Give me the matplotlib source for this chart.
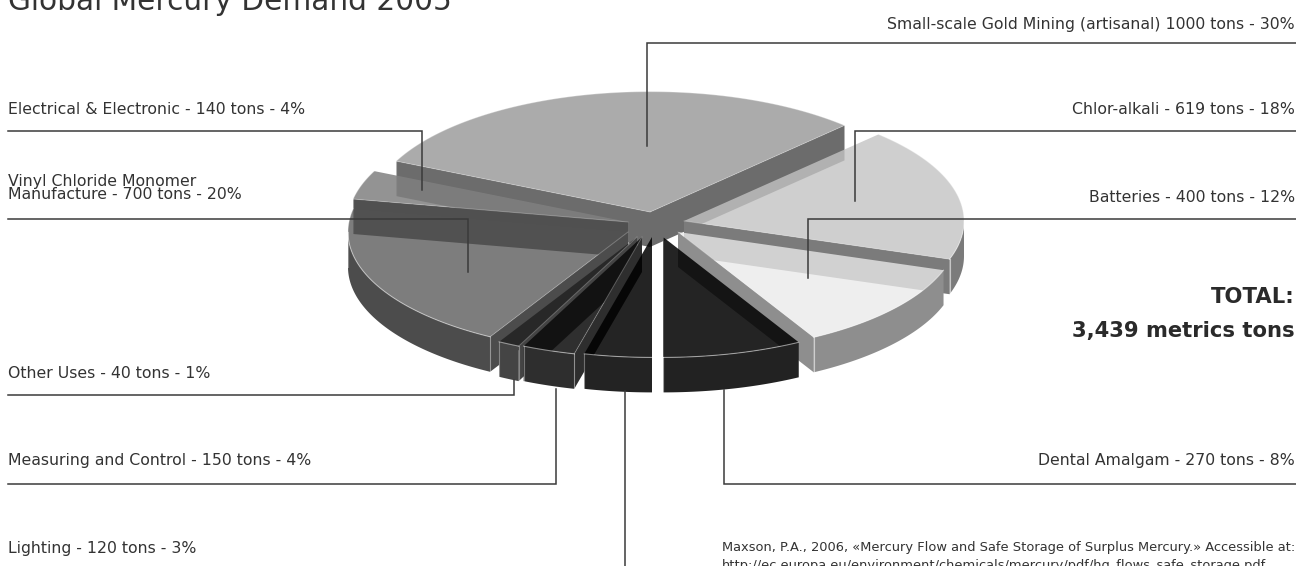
import numpy as np
import matplotlib
matplotlib.use("Agg")
import matplotlib.pyplot as plt
from matplotlib.patches import Polygon

# ---- data ----
categories = ["Small-scale Gold Mining (artisanal)", "Chlor-alkali", "Batteries", "Dental Amalgam",
              "Lighting", "Measuring and Control", "Other Uses",
              "Vinyl Chloride Monomer\nManufacture", "Electrical & Electronic"]
tons = [1000, 619, 400, 270, 120, 150, 40, 700, 140]
percent = [30, 18, 12, 8, 3, 4, 1, 20, 4]
# slice sizes as they are actually drawn in the picture (degrees)
drawn_degrees = [109.0, 64.5, 42.5, 29.0, 14.0, 11.0, 4.5, 71.5, 14.0]
total_label = ["TOTAL:", "3,439 metrics tons"]
title = "Global Mercury Demand 2005"
source = ["Maxson, P.A., 2006, «Mercury Flow and Safe Storage of Surplus Mercury.» Accessible at:",
          "http://ec.europa.eu/environment/chemicals/mercury/pdf/hg_flows_safe_storage.pdf"]

# ---- style / layout ----
W, H = 1296, 566
R, SQUASH, DEPTH = 280, 0.43, 35
START = 155.0
apex = [(650, 212), (684, 221), (678, 232), (663, 237), (652, 237),
        (642, 237), (637, 237), (628, 232), (628, 222)]
top_col = ["#ababab", "#c3c3c3", "#eaeaea", "#000000", "#000000", "#0a0a0a", "#222222", "#525252", "#808080"]
top_alpha = [1.0, 0.8, 0.78, 0.86, 0.86, 0.85, 0.85, 0.75, 0.85]
wall_col = ["#6c6c6c", "#7b7b7b", "#8e8e8e", "#222222", "#232323", "#2e2e2e", "#444444", "#4c4c4c", "#505050"]
draw_order = [0, 1, 2, 3, 8, 7, 6, 5, 4]

label_pos = {0: (1295, 24, "right"), 1: (1295, 109, "right"), 2: (1295, 197, "right"),
             3: (1295, 461, "right"), 4: (8, 549, "left"), 5: (8, 461, "left"),
             6: (8, 373, "left"), 7: (8, 188, "left"), 8: (8, 109, "left")}
leaders = {0: [(1296, 43), (647, 43), (647, 146)], 1: [(1296, 131), (855, 131), (855, 201)],
           2: [(1296, 219), (808, 219), (808, 278)], 3: [(1296, 484), (724, 484), (724, 390)],
           4: [(625, 567), (625, 391)], 5: [(8, 484), (556, 484), (556, 389)],
           6: [(8, 395), (514, 395), (514, 380)], 7: [(8, 219), (468, 219), (468, 272)],
           8: [(8, 131), (422, 131), (422, 190)]}
TEXT = "#333333"
plt.rcParams["font.family"] = ["DejaVu Sans"]

fig = plt.figure(figsize=(W / 100, H / 100), dpi=100)
ax = fig.add_axes([0, 0, 1, 1])
ax.set_xlim(0, W)
ax.set_ylim(H, 0)
ax.axis("off")


def rim(ap, t0, t1):
    t = np.radians(np.linspace(t0, t1, 80))
    return np.column_stack([ap[0] + R * np.cos(t), ap[1] - R * SQUASH * np.sin(t)])


def extrude(pts):
    low = pts[::-1] + np.array([0, DEPTH])
    return np.vstack([pts, low])


edges = START - np.concatenate([[0], np.cumsum(drawn_degrees)])
for i in draw_order:
    ap = np.array(apex[i], float)
    hi, lo = edges[i], edges[i + 1]
    arc = rim(ap, hi, lo)
    walls = []
    # outer wall: only the part facing the viewer
    ts = np.linspace(hi, lo, 300)
    vis = np.sin(np.radians(ts)) <= 0.0
    if vis.any():
        walls.append(rim(ap, ts[vis][0], ts[vis][-1]))
    # straight cut walls
    if np.cos(np.radians(hi)) < 0:
        walls.append(np.vstack([ap, arc[0]]))
    if np.cos(np.radians(lo)) > 0:
        walls.append(np.vstack([ap, arc[-1]]))
    for w in walls:
        ax.add_patch(Polygon(extrude(w), closed=True, fc=wall_col[i], ec="none", zorder=2 + draw_order.index(i) * 0.1))
    ax.add_patch(Polygon(np.vstack([ap, arc]), closed=True, fc=top_col[i], alpha=top_alpha[i], ec="none",
                         zorder=2.05 + draw_order.index(i) * 0.1))
    # light rim highlights
    zh = 2.07 + draw_order.index(i) * 0.1
    ax.plot(*arc.T, color="white", alpha=0.3, lw=0.8, zorder=zh)
    for w in walls:
        ax.plot(*w.T, color="white", alpha=0.25, lw=0.7, zorder=zh)
        ax.plot([w[-1, 0], w[-1, 0]], [w[-1, 1], w[-1, 1] + DEPTH], color="white", alpha=0.35, lw=0.8, zorder=zh)

for i, name in enumerate(categories):
    x, y, ha = label_pos[i]
    sep = " " if i == 0 else " - "
    ax.text(x, y, f"{name}{sep}{tons[i]} tons - {percent[i]}%", ha=ha, va="center",
            fontsize=11.3, color=TEXT, linespacing=0.9)
    pts = np.array(leaders[i])
    ax.plot(*pts.T, color="#3a3a3a", lw=1.1, zorder=5, solid_joinstyle="miter")

ax.text(8, 1.5, title, ha="left", va="center", fontsize=21.3, color=TEXT)
ax.text(1295, 297, total_label[0], ha="right", va="center", fontsize=15.2, fontweight="bold", color="#2a2a2a")
ax.text(1295, 331, total_label[1], ha="right", va="center", fontsize=15.2, fontweight="bold", color="#2a2a2a")
ax.text(722, 547, source[0], ha="left", va="center", fontsize=9.36, color=TEXT)
ax.text(722, 565, source[1], ha="left", va="center", fontsize=9.36, color=TEXT)

fig.savefig("out.png", dpi=100)
